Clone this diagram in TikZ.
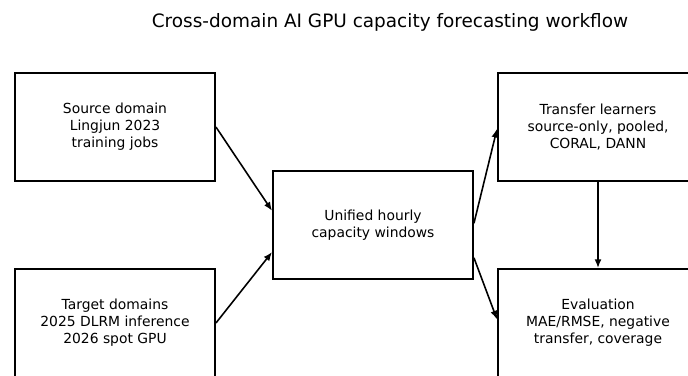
\documentclass[tikz,border=0pt]{standalone}
\usepackage{fontspec}
\setmainfont{DejaVu Sans}
\usetikzlibrary{arrows.meta}

\tikzset{
    stagebox/.style={draw, line width=1.1pt, minimum width=4cm, minimum height=2.16cm,
        align=center, font=\fontsize{7.9}{9.6}\selectfont, inner sep=2pt},
    flow/.style={-{Latex[length=5pt,width=4pt]}, line width=0.9pt}
}

\begin{document}
\begin{tikzpicture}[x=0.02cm, y=-0.02cm]
    \useasboundingbox (0,0) rectangle (688,375);
    \clip (0,0) rectangle (688,375);
    \node[font=\fontsize{10.5}{12}\selectfont] (title) at (390,22) {Cross-domain AI GPU capacity forecasting workflow};
    \node[stagebox] (src) at (115,127) {Source domain\\Lingjun 2023\\training jobs};
    \node[stagebox] (tgt) at (115,323) {Target domains\\2025 DLRM inference\\2026 spot GPU};
    \node[stagebox] (unified) at (373,225) {Unified hourly\\capacity windows};
    \node[stagebox] (learners) at (598,127) {Transfer learners\\source-only, pooled,\\CORAL, DANN};
    \node[stagebox] (evalbox) at (598,323) {Evaluation\\MAE/RMSE, negative\\transfer, coverage};
    % connectors
    \draw[flow] (src.east) -- (unified.172.6);
    \draw[flow] (tgt.east) -- (unified.195.6);
    \draw[flow] (unified.1.7) -- (learners.181.7);
    \draw[flow] (unified.342) -- (evalbox.178);
    \draw[flow] (learners.south) -- (evalbox.north);
\end{tikzpicture}
\end{document}
